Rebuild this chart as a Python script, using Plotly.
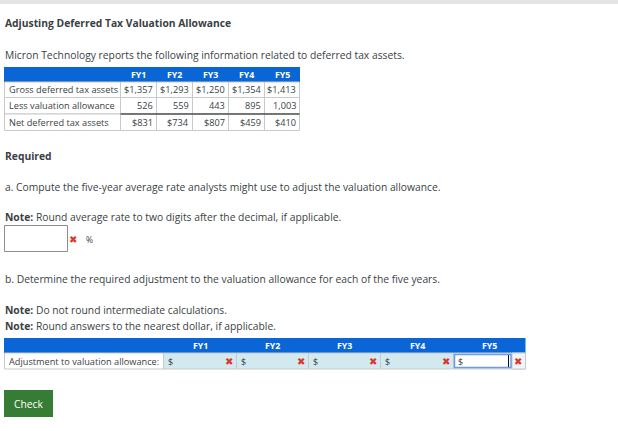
import plotly.graph_objects as go

W, H = 618, 431
FONT = "Open Sans"
INK = "#3a3f44"
BLUE = "#0a66d6"
GRID = "#c9c9c9"
CELL_BLUE = "#d3e9f0"
RED = "#d8392b"
BODY = 10.3
CELL = 9.2

years = ["FY1", "FY2", "FY3", "FY4", "FY5"]
row_labels = ["Gross deferred tax assets", "Less valuation allowance", "Net deferred tax assets"]
gross_assets = ["$1,357", "$1,293", "$1,250", "$1,354", "$1,413"]
valuation_allowance = ["526", "559", "443", "895", "1,003"]
net_assets = ["$831", "$734", "$807", "$459", "$410"]
adjustment_label = "Adjustment to valuation allowance:"

# text lines of the page: (middle y, text)
page_lines = [
    (23, "<b>Adjusting Deferred Tax Valuation Allowance</b>"),
    (55, "Micron Technology reports the following information related to deferred tax assets."),
    (156, "<b>Required</b>"),
    (187, "a. Compute the five-year average rate analysts might use to adjust the valuation allowance."),
    (217, "<b>Note:</b> Round average rate to two digits after the decimal, if applicable."),
    (279, "b. Determine the required adjustment to the valuation allowance for each of the five years."),
    (310, "<b>Note:</b> Do not round intermediate calculations."),
    (326, "<b>Note:</b> Round answers to the nearest dollar, if applicable."),
]

# table grids in page pixels
top_x = [4.5, 120.5, 156.5, 192.5, 228.5, 264.5, 299.5]
top_y = [67, 82, 97.5, 114, 130.5]
low_x = [4.5, 163.5, 236.5, 308.5, 380.5, 453.5, 525.5]
low_y = [338, 353, 369]


def text(fig, x, y, s, size=BODY, color=INK, anchor="left"):
    fig.add_annotation(x=x, y=y, text=s, showarrow=False, xanchor=anchor, yanchor="middle",
                       xref="x", yref="y", align=anchor, borderpad=0,
                       font=dict(family=FONT, size=size, color=color))


def rect(fig, x0, x1, y0, y1, fill, line=None, width=1):
    fig.add_shape(type="rect", x0=x0, x1=x1, y0=y0, y1=y1, fillcolor=fill, layer="below",
                  line=dict(color=line, width=width) if line else dict(width=0))


def cross(fig, x, y):
    text(fig, x, y, "✖", size=10, color=RED, anchor="center")


fig = go.Figure()

for y, s in page_lines:
    text(fig, 4, y, s)

rect(fig, 0, W, 0, 4, "#e4e4e4")

# top table
rect(fig, top_x[0] - 0.5, top_x[-1] + 0.5, top_y[0], top_y[1], BLUE)
for i, year in enumerate(years):
    text(fig, (top_x[i + 1] + top_x[i + 2]) / 2, (top_y[0] + top_y[1]) / 2, "<b>%s</b>" % year,
         size=8.8, color="white", anchor="center")
for r, (label, values) in enumerate(zip(row_labels, [gross_assets, valuation_allowance, net_assets])):
    y0, y1 = top_y[r + 1], top_y[r + 2]
    for c in range(6):
        rect(fig, top_x[c], top_x[c + 1], y0, y1, "white", GRID)
    text(fig, top_x[0] + 3, (y0 + y1) / 2, label, size=CELL)
    for c, v in enumerate(values):
        text(fig, top_x[c + 2] - 2.5, (y0 + y1) / 2, v, size=CELL, anchor="right")
fig.add_shape(type="line", x0=top_x[1], x1=top_x[-1], y0=top_y[3], y1=top_y[3], line=dict(color="#111", width=1))

# answer box
rect(fig, 4.5, 67.5, 225.5, 251.5, "white", "#8c8c94")
cross(fig, 73, 239)
text(fig, 85, 239.5, "%", size=8.5)

# lower table
rect(fig, low_x[0] - 0.5, low_x[-1], low_y[0], low_y[1], BLUE)
rect(fig, low_x[0], low_x[1], low_y[1], low_y[2], "white", GRID)
text(fig, low_x[0] + 3, (low_y[1] + low_y[2]) / 2, adjustment_label, size=CELL)
for i, year in enumerate(years):
    x0, x1 = low_x[i + 1], low_x[i + 2]
    text(fig, (x0 + x1) / 2, (low_y[0] + low_y[1]) / 2, "<b>%s</b>" % year, size=8.8, color="white", anchor="center")
    rect(fig, x0, x1, low_y[1], low_y[2], CELL_BLUE, GRID)
    text(fig, x0 + 3, (low_y[1] + low_y[2]) / 2 + 0.5, "$", size=9)
    cross(fig, x1 - 7.5, (low_y[1] + low_y[2]) / 2)

# FY5 input has focus, its cross sits beside it
rect(fig, 512, low_x[-1], low_y[1], low_y[2], "#eef6f9", GRID)
rect(fig, 454.5, 511, 354.5, 367.5, "white", "#6f9be8", 1.5)
fig.add_shape(type="line", x0=508.5, x1=508.5, y0=355, y1=367, line=dict(color="#111", width=1), layer="below")

# check button
rect(fig, 4, 53, 390, 417, "#367c35")
text(fig, 29, 404, "Check", color="white", anchor="center")

fig.update_xaxes(range=[0, W], visible=False, fixedrange=True)
fig.update_yaxes(range=[H, 0], visible=False, fixedrange=True)
fig.update_layout(width=W, height=H, margin=dict(l=0, r=0, t=0, b=0), showlegend=False,
                  paper_bgcolor="white", plot_bgcolor="rgba(0,0,0,0)")

fig.write_html("out.html", config=dict(displayModeBar=False),
               post_script="document.body.style.margin='0';document.body.style.overflow='hidden';")
